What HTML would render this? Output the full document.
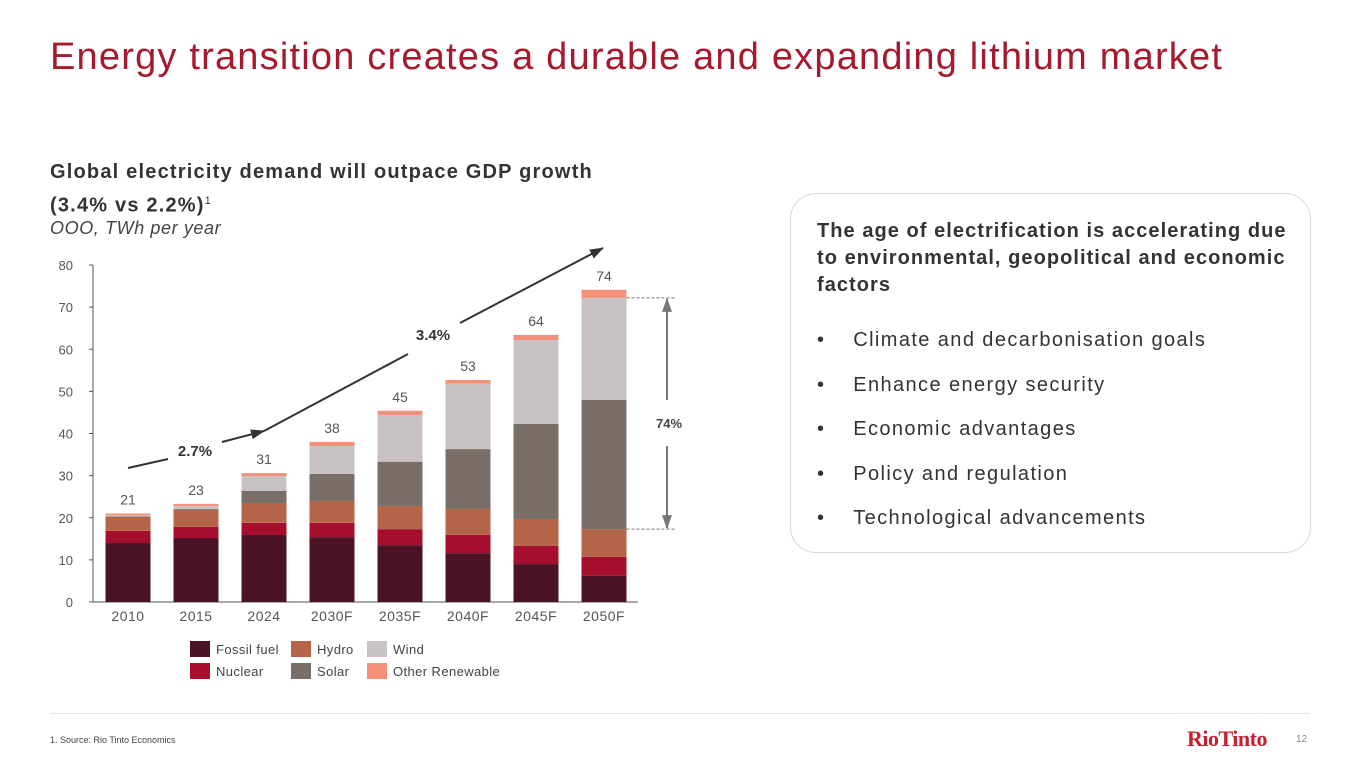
<!DOCTYPE html>
<html><head><meta charset="utf-8">
<style>
body{margin:0;width:1365px;height:768px;background:#fff;font-family:"Liberation Sans",sans-serif;overflow:hidden;position:relative}
.t{position:absolute;white-space:nowrap}
</style></head><body>
<div class="t" style="left:50px;top:36px;font-size:38px;color:#a6192e;letter-spacing:1.2px">Energy transition creates a durable and expanding lithium market</div>
<div class="t" style="left:50px;top:158px;font-size:20px;font-weight:bold;color:#333;line-height:29px;letter-spacing:1.2px">Global electricity demand will outpace GDP growth<br>(3.4% vs 2.2%)<sup style="font-size:11px;font-weight:normal">1</sup></div>
<div class="t" style="left:50px;top:218px;font-size:18px;font-style:italic;color:#444;letter-spacing:0.6px">OOO, TWh per year</div>

<div style="position:absolute;left:790px;top:193px;width:521px;height:360px;border:1px solid #d8d8d8;border-radius:26px;box-sizing:border-box"></div>
<div class="t" style="left:817px;top:218px;font-size:20px;font-weight:bold;color:#333;line-height:27px;letter-spacing:1.05px">The age of electrification is accelerating due<br>to environmental, geopolitical and economic<br>factors</div>
<div style="position:absolute;left:817px;top:318px;font-size:20px;color:#333;line-height:44.5px;letter-spacing:1.4px">
<div>•&nbsp;&nbsp;&nbsp;&nbsp;Climate and decarbonisation goals</div>
<div>•&nbsp;&nbsp;&nbsp;&nbsp;Enhance energy security</div>
<div>•&nbsp;&nbsp;&nbsp;&nbsp;Economic advantages</div>
<div>•&nbsp;&nbsp;&nbsp;&nbsp;Policy and regulation</div>
<div>•&nbsp;&nbsp;&nbsp;&nbsp;Technological advancements</div>
</div>

<div style="position:absolute;left:50px;top:713px;width:1260px;height:1px;background:#e3e3e3"></div>
<div class="t" style="left:50px;top:735px;font-size:9px;color:#444">1. Source: Rio Tinto Economics</div>
<div class="t" style="left:1187px;top:726px;font-size:22px;font-family:'Liberation Serif',serif;font-weight:bold;color:#c8202f;letter-spacing:-0.5px">RioTinto</div>
<div class="t" style="left:1296px;top:734px;font-size:10px;color:#888">12</div>

<svg id="chart" width="1365" height="768" style="position:absolute;left:0;top:0">
<defs><marker id="ah" markerUnits="userSpaceOnUse" markerWidth="14" markerHeight="10" refX="13" refY="5" orient="auto"><path d="M0,0 L14,5 L0,10 z" fill="#333"/></marker>
<marker id="ag" markerUnits="userSpaceOnUse" markerWidth="14" markerHeight="10" refX="13" refY="5" orient="auto"><path d="M0,0 L14,5 L0,10 z" fill="#777"/></marker></defs>
</svg>
<script>
const categories=["2010","2015","2024","2030F","2035F","2040F","2045F","2050F"];
const fossil=[14.0,15.2,15.9,15.4,13.5,11.6,9.0,6.2];
const nuclear=[2.9,2.6,2.9,3.4,3.8,4.3,4.3,4.5];
const hydro=[3.3,4.1,4.7,5.2,5.5,6.2,6.4,6.6];
const solar=[0.1,0.2,2.9,6.4,10.5,14.2,22.6,30.7];
const wind=[0.3,0.7,3.5,6.6,11.1,15.5,19.9,24.2];
const other=[0.4,0.5,0.7,1.0,1.0,0.9,1.2,1.9];
const totals=["21","23","31","38","45","53","64","74"];
const yTicks=[0,10,20,30,40,50,60,70,80];
const seriesNames=["Fossil fuel","Nuclear","Hydro","Solar","Wind","Other Renewable"];
const colors=["#4a1424","#a50f2d","#b5654a","#7a6e68","#c9c2c3","#f4907a"];
const series=[fossil,nuclear,hydro,solar,wind,other];
const NS="http://www.w3.org/2000/svg";
const svg=document.getElementById("chart");
const y0=602,y80=265;
const y=v=>y0-(y0-y80)*v/80;
const x=i=>128+68*i;
const bw=45;
function mk(t,a,txt){const e=document.createElementNS(NS,t);for(const k in a)e.setAttribute(k,a[k]);if(txt!==undefined)e.textContent=txt;svg.appendChild(e);return e;}
let ax=mk("line",{x1:93,y1:265,x2:93,y2:y0,stroke:"#555","stroke-width":1});


let bx=mk("line",{x1:93,y1:y0,x2:638,y2:y0,stroke:"#555","stroke-width":1});


yTicks.forEach(v=>{
 let tk=mk("line",{x1:89,y1:y(v),x2:93,y2:y(v),stroke:"#555"});
 
 
 let tl=mk("text",{x:73,y:y(v)+5,"text-anchor":"end","font-size":13,fill:"#555"},String(v));
 
 
});
categories.forEach((c,i)=>{
 let acc=0;
 series.forEach((s,k)=>{
  const r=mk("rect",{x:x(i)-bw/2,y:y(acc+s[i]),width:bw,height:y(acc)-y(acc+s[i]),fill:colors[k]});
  
  
  acc+=s[i];
 });
 let tl=mk("text",{x:x(i),y:y(acc)-9,"text-anchor":"middle","font-size":14,fill:"#555"},totals[i]);
 
 
 let xl=mk("text",{x:x(i),y:621,"text-anchor":"middle","font-size":14,fill:"#555","letter-spacing":"0.5"},c);
 
 
});
let a1=mk("line",{x1:x(0),y1:468,x2:168,y2:459,stroke:"#333","stroke-width":2});


let a2=mk("line",{x1:222,y1:442,x2:x(2),y2:431,stroke:"#333","stroke-width":2,"marker-end":"url(#ah)"});


let t1=mk("text",{x:195,y:456,"text-anchor":"middle","font-size":15,"font-weight":"bold",fill:"#333"},"2.7%");


let a3=mk("line",{x1:x(2),y1:431,x2:408,y2:354,stroke:"#333","stroke-width":2});


let a4=mk("line",{x1:460,y1:323,x2:603,y2:248,stroke:"#333","stroke-width":2,"marker-end":"url(#ah)"});


let t2=mk("text",{x:433,y:340,"text-anchor":"middle","font-size":15,"font-weight":"bold",fill:"#333"},"3.4%");


const last=7;const topW=fossil[last]+nuclear[last]+hydro[last]+solar[last]+wind[last];const botW=fossil[last]+nuclear[last]+hydro[last];
let d1=mk("line",{x1:x(last)+bw/2,y1:y(topW),x2:676,y2:y(topW),stroke:"#777","stroke-dasharray":"3,2"});


let d2=mk("line",{x1:x(last)+bw/2,y1:y(botW),x2:676,y2:y(botW),stroke:"#777","stroke-dasharray":"3,2"});


let v1=mk("line",{x1:667,y1:400,x2:667,y2:y(topW)+1,stroke:"#777","stroke-width":2,"marker-end":"url(#ag)"});


let v2=mk("line",{x1:667,y1:446,x2:667,y2:y(botW)-1,stroke:"#777","stroke-width":2,"marker-end":"url(#ag)"});


let t3=mk("text",{x:669,y:428,"text-anchor":"middle","font-size":13,"font-weight":"bold",fill:"#444"},"74%");


const legOrder=[0,2,4,1,3,5];
legOrder.forEach((k,j)=>{
 const col=j%3,row=Math.floor(j/3);
 const lx=190+col*101+(col==2?-25:0),ly=641+row*22;
 let r=mk("rect",{x:lx,y:ly,width:20,height:16,fill:colors[k]});
 
 
 let t=mk("text",{x:lx+26,y:ly+13,"font-size":13,fill:"#444","letter-spacing":"0.4"},seriesNames[k]);
 
 
});
</script>
</body></html>
